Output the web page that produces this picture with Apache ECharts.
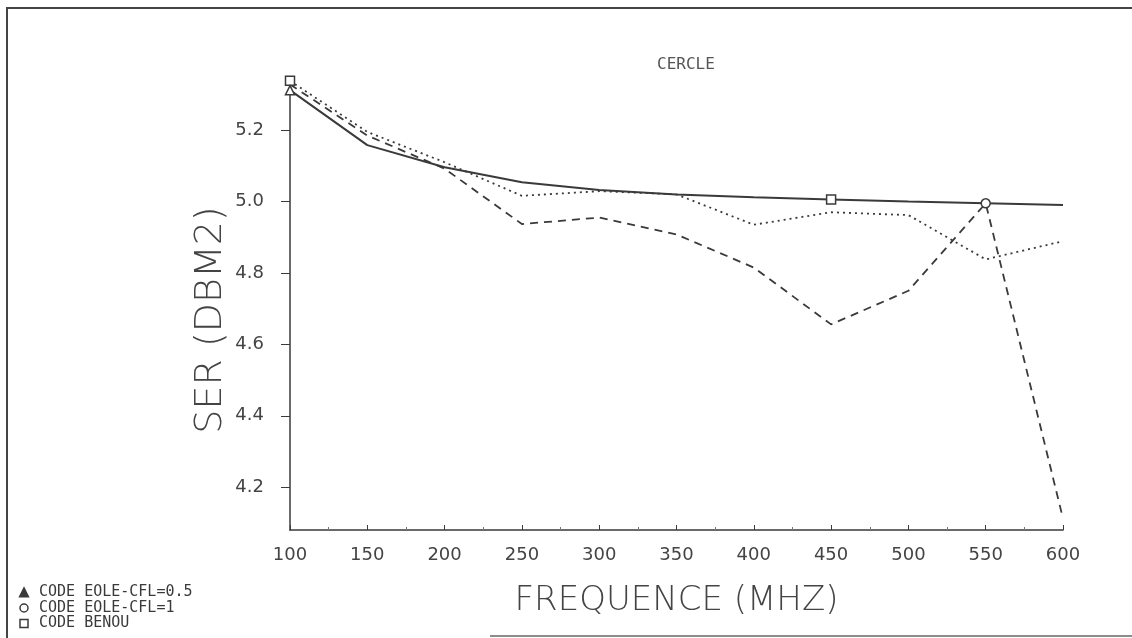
<!DOCTYPE html>
<html>
<head>
<meta charset="utf-8">
<script src="https://cdn.jsdelivr.net/npm/echarts@6/dist/echarts.min.js"></script>
<style>html,body{margin:0;padding:0;background:#fff}#c{width:1132px;height:638px}</style>
</head>
<body>
<div id="c"></div>
<script>
var freq = [100, 150, 200, 250, 300, 350, 400, 450, 500, 550, 600];
var benou = [5.312, 5.158, 5.096, 5.054, 5.032, 5.020, 5.012, 5.006, 5.000, 4.995, 4.990];
var cfl05 = [5.338, 5.195, 5.110, 5.016, 5.029, 5.020, 4.935, 4.970, 4.962, 4.838, 4.889];
var cfl1  = [5.328, 5.185, 5.092, 4.937, 4.955, 4.908, 4.815, 4.656, 4.750, 4.995, 4.112];
var yTicks = [4.2, 4.4, 4.6, 4.8, 5.0, 5.2];
var yTickLabels = ['4.2', '4.4', '4.6', '4.8', '5.0', '5.2'];
var seriesNames = ['CODE EOLE-CFL=0.5', 'CODE EOLE-CFL=1', 'CODE BENOU'];
var title = 'CERCLE';
var xName = 'FREQUENCE (MHZ)';
var yName = 'SER (DBM2)';

function pts(vals, marks) {
  return vals.map(function (v, i) {
    var item = { value: [freq[i], v], symbol: 'none' };
    if (marks[i]) { item.symbol = marks[i]; item.symbolSize = 9; }
    return item;
  });
}
var ink = '#3a3a3a';
var chart = echarts.init(document.getElementById('c'), null, { renderer: 'canvas' });
chart.setOption({
  backgroundColor: '#fff',
  animation: false,
  title: { text: title, left: 652, top: 52, textStyle: { fontFamily: 'DejaVu Sans Mono', fontSize: 16, fontWeight: 'normal', color: '#555' } },
  grid: { left: 290, right: 69, top: 78, bottom: 108 },
  legend: {
    orient: 'vertical', left: 14, top: 580, height: 58, itemGap: 0.5, itemWidth: 8, itemHeight: 8,
    textStyle: { fontFamily: 'DejaVu Sans Mono', fontSize: 15, lineHeight: 14, color: ink, padding: [0, 0, 0, 6] },
    data: [
      { name: seriesNames[0], icon: 'triangle', itemStyle: { color: ink } },
      { name: seriesNames[1], icon: 'circle', itemStyle: { color: '#fff', borderColor: ink, borderWidth: 1.5 } },
      { name: seriesNames[2], icon: 'rect', itemStyle: { color: '#fff', borderColor: ink, borderWidth: 1.5 } }
    ]
  },
  xAxis: {
    type: 'value', min: 100, max: 600, interval: 50,
    name: xName, nameLocation: 'middle', nameGap: 54,
    nameTextStyle: { fontFamily: 'DejaVu Sans', fontSize: 34, color: '#444', fontWeight: 'lighter' },
    axisLine: { lineStyle: { color: ink, width: 1.5 } },
    axisTick: { inside: true, length: 5, lineStyle: { color: ink } },
    minorTick: { show: true, splitNumber: 2, length: 3, lineStyle: { color: '#777' } },
    splitLine: { show: false },
    axisLabel: { fontFamily: 'DejaVu Sans', fontSize: 18, color: '#444', margin: 16 }
  },
  yAxis: {
    type: 'value', min: 4.08, max: 5.346,
    name: yName, nameLocation: 'middle', nameGap: 60, nameRotate: 90, nameMoveOverlap: false,
    nameTextStyle: { fontFamily: 'DejaVu Sans', fontSize: 38, color: '#444', fontWeight: 'lighter', padding: [0, 32, 0, 0] },
    axisLine: { show: true, lineStyle: { color: ink, width: 1.5 } },
    axisTick: { show: true, length: 9, customValues: yTicks, lineStyle: { color: ink } },
    splitLine: { show: false },
    axisLabel: {
      fontFamily: 'DejaVu Sans', fontSize: 18, color: '#444', margin: 26, customValues: yTicks,
      formatter: function (v) { var i = yTicks.indexOf(Math.round(v * 10) / 10); return i >= 0 ? yTickLabels[i] : ''; }
    }
  },
  series: [
    { name: seriesNames[0], type: 'line', color: ink, symbol: 'none',
      lineStyle: { type: [2, 4], width: 1.8, color: ink },
      itemStyle: { color: '#fff', borderColor: ink, borderWidth: 1.5 },
      data: pts(cfl05, { 0: 'rect' }) },
    { name: seriesNames[1], type: 'line', color: ink, symbol: 'none',
      lineStyle: { type: [8, 6], width: 1.8, color: ink },
      itemStyle: { color: '#fff', borderColor: ink, borderWidth: 1.5 },
      data: pts(cfl1, { 9: 'circle' }) },
    { name: seriesNames[2], type: 'line', color: ink, symbol: 'none',
      lineStyle: { type: 'solid', width: 2, color: ink },
      itemStyle: { color: '#fff', borderColor: ink, borderWidth: 1.5 },
      data: pts(benou, { 0: 'triangle', 7: 'rect' }) }
  ],
  graphic: [
    { type: 'polyline', shape: { points: [[1132, 8], [7, 8], [7, 638]] }, style: { stroke: '#444', lineWidth: 2, fill: null } },
    { type: 'line', shape: { x1: 490, y1: 636, x2: 1132, y2: 636 }, style: { stroke: '#666', lineWidth: 1.5 } }
  ]
});
</script>
</body>
</html>
